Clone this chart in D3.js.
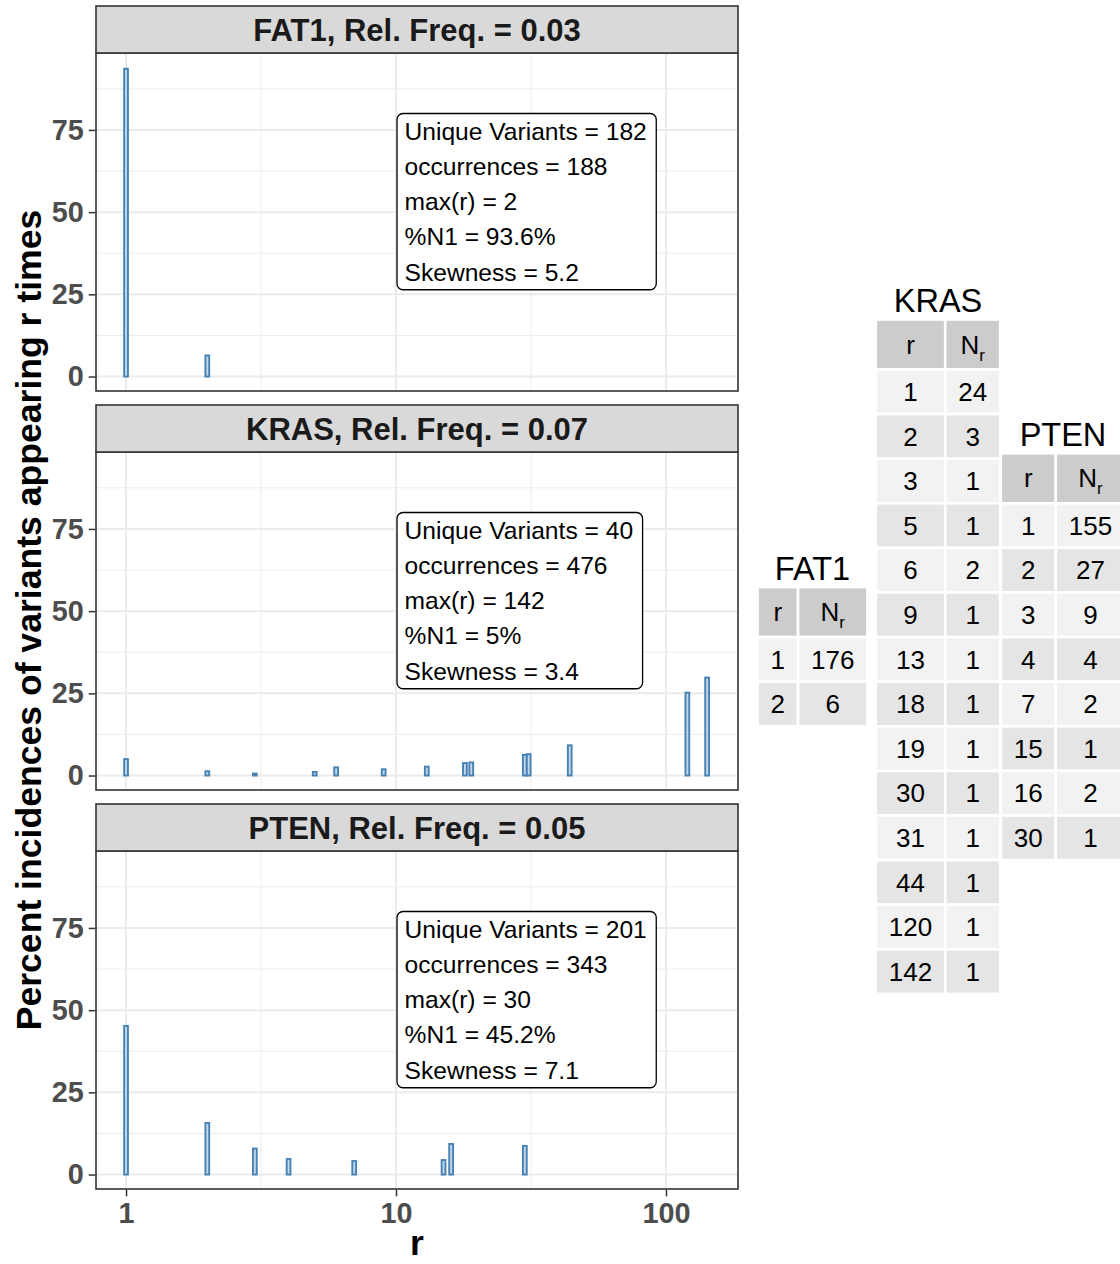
<!DOCTYPE html>
<html>
<head>
<meta charset="utf-8">
<script src="https://cdn.jsdelivr.net/npm/d3@7"></script>
<style>
  html, body { margin: 0; padding: 0; background: #ffffff; }
  svg { display: block; }
</style>
</head>
<body>
<svg id="chart" width="1120" height="1264"></svg>
<script>
// ---- data -------------------------------------------------------------
const genes = ["FAT1", "KRAS", "PTEN"];
const relFreq = ["0.03", "0.07", "0.05"];
const uniqueVariants = [182, 40, 201];
const occurrences = [188, 476, 343];
const maxR = [2, 142, 30];
const pctN1 = ["93.6%", "5%", "45.2%"];
const skewness = ["5.2", "3.4", "7.1"];

// r values and number of variants seen r times (N_r)
const fat1R = [1, 2];
const fat1N = [176, 6];
const krasR = [1, 2, 3, 5, 6, 9, 13, 18, 19, 30, 31, 44, 120, 142];
const krasN = [24, 3, 1, 1, 2, 1, 1, 1, 1, 1, 1, 1, 1, 1];
const ptenR = [1, 2, 3, 4, 7, 15, 16, 30];
const ptenN = [155, 27, 9, 4, 2, 1, 2, 1];

// percent of incidences for each r
const fat1Pct = [93.6, 6.4];
const krasPct = [5.0, 1.3, 0.6, 1.1, 2.5, 1.9, 2.7, 3.8, 4.0, 6.3, 6.5, 9.2, 25.2, 29.8];
const ptenPct = [45.2, 15.7, 7.9, 4.7, 4.1, 4.4, 9.3, 8.7];

const yTicks = [0, 25, 50, 75];
const yMinor = [12.5, 37.5, 62.5, 87.5];
const xTicks = [1, 10, 100];
const xMinor = [Math.pow(10, 0.5), Math.pow(10, 1.5)];

// ---- layout -----------------------------------------------------------
const FONT = "'Liberation Sans', Arial, Helvetica, sans-serif";
const svg = d3.select("#chart");

const panelLeft = 96, panelRight = 738;
const panelTops = [53, 452, 851];
const panelH = 338;
const stripH = 47;

const x = d3.scaleLog().domain([0.774, 184.8]).range([panelLeft, panelRight]);

const panels = [
  { r: fat1R, pct: fat1Pct },
  { r: krasR, pct: krasPct },
  { r: ptenR, pct: ptenPct }
];

panels.forEach((p, i) => {
  const top = panelTops[i];
  const y = d3.scaleLinear().domain([-4.4, 98.4]).range([top + panelH, top]);
  const g = svg.append("g");

  // panel background
  g.append("rect").attr("x", panelLeft).attr("y", top)
    .attr("width", panelRight - panelLeft).attr("height", panelH)
    .attr("fill", "#ffffff");

  // grid
  g.selectAll(".ymin").data(yMinor).join("line")
    .attr("x1", panelLeft).attr("x2", panelRight)
    .attr("y1", d => y(d)).attr("y2", d => y(d))
    .attr("stroke", "#ebebeb").attr("stroke-width", 1);
  g.selectAll(".xmin").data(xMinor).join("line")
    .attr("y1", top).attr("y2", top + panelH)
    .attr("x1", d => x(d)).attr("x2", d => x(d))
    .attr("stroke", "#ebebeb").attr("stroke-width", 1);
  g.selectAll(".ymaj").data(yTicks).join("line")
    .attr("x1", panelLeft).attr("x2", panelRight)
    .attr("y1", d => y(d)).attr("y2", d => y(d))
    .attr("stroke", "#ebebeb").attr("stroke-width", 2);
  g.selectAll(".xmaj").data(xTicks).join("line")
    .attr("y1", top).attr("y2", top + panelH)
    .attr("x1", d => x(d)).attr("x2", d => x(d))
    .attr("stroke", "#ebebeb").attr("stroke-width", 2);

  // bars
  const bars = p.r.map((r, k) => ({ r: r, v: p.pct[k] }));
  const bw = 3.8;
  g.selectAll(".bar").data(bars).join("rect")
    .attr("x", d => x(d.r) - bw / 2)
    .attr("y", d => y(d.v))
    .attr("width", bw)
    .attr("height", d => y(0) - y(d.v))
    .attr("fill", "#c4d8ea")
    .attr("stroke", "#4682b4")
    .attr("stroke-width", 1.9);

  // stats box
  const lines = [
    "Unique Variants = " + uniqueVariants[i],
    "occurrences = " + occurrences[i],
    "max(r) = " + maxR[i],
    "%N1 = " + pctN1[i],
    "Skewness = " + skewness[i]
  ];
  const bx = x(10) + 1, by = y(80);
  const lh = 35.25;
  const box = g.append("rect");
  const texts = g.selectAll(".stat").data(lines).join("text")
    .attr("x", bx + 7.5)
    .attr("y", (d, k) => by + 17.5 + k * lh)
    .attr("dy", "0.35em")
    .attr("font-family", FONT).attr("font-size", 24.6)
    .attr("fill", "#000000")
    .text(d => d);
  let wmax = 0;
  texts.each(function () { wmax = Math.max(wmax, this.getComputedTextLength()); });
  box.attr("x", bx).attr("y", by)
    .attr("width", wmax + 17).attr("height", lh * 5)
    .attr("rx", 6).attr("ry", 6)
    .attr("fill", "#ffffff").attr("stroke", "#000000").attr("stroke-width", 1.3);

  // panel border
  g.append("rect").attr("x", panelLeft).attr("y", top)
    .attr("width", panelRight - panelLeft).attr("height", panelH)
    .attr("fill", "none").attr("stroke", "#333333").attr("stroke-width", 1.6);

  // strip
  g.append("rect").attr("x", panelLeft).attr("y", top - stripH)
    .attr("width", panelRight - panelLeft).attr("height", stripH)
    .attr("fill", "#d9d9d9").attr("stroke", "#333333").attr("stroke-width", 1.6);
  g.append("text")
    .attr("x", (panelLeft + panelRight) / 2)
    .attr("y", top - stripH / 2 + 1)
    .attr("dy", "0.35em")
    .attr("text-anchor", "middle")
    .attr("font-family", FONT).attr("font-size", 31).attr("font-weight", "bold")
    .attr("fill", "#1a1a1a")
    .text(genes[i] + ", Rel. Freq. = " + relFreq[i]);

  // y axis
  const yAxis = d3.axisLeft(y).tickValues(yTicks).tickSize(6.5).tickPadding(5).tickFormat(d3.format("d"));
  const ya = g.append("g").attr("transform", `translate(${panelLeft - 0.8},0)`).call(yAxis);
  ya.select(".domain").remove();
  ya.selectAll(".tick line").attr("stroke", "#333333").attr("stroke-width", 1.5);
  ya.selectAll(".tick text")
    .attr("font-family", FONT).attr("font-size", 28.8).attr("font-weight", "bold")
    .attr("fill", "#4d4d4d");

  // x axis on the bottom panel only
  if (i === panels.length - 1) {
    const xAxis = d3.axisBottom(x).tickValues(xTicks).tickSize(6.5).tickPadding(6).tickFormat(d3.format("d"));
    const xa = g.append("g").attr("transform", `translate(0,${top + panelH + 0.8})`).call(xAxis);
    xa.select(".domain").remove();
    xa.selectAll(".tick line").attr("stroke", "#333333").attr("stroke-width", 1.5);
    xa.selectAll(".tick text")
      .attr("font-family", FONT).attr("font-size", 28.8).attr("font-weight", "bold")
      .attr("fill", "#4d4d4d");
  }
});

// axis titles
svg.append("text")
  .attr("x", (panelLeft + panelRight) / 2).attr("y", 1255)
  .attr("text-anchor", "middle")
  .attr("font-family", FONT).attr("font-size", 35.6).attr("font-weight", "bold")
  .attr("fill", "#000000")
  .text("r");
svg.append("text")
  .attr("transform", "translate(41,620) rotate(-90)")
  .attr("text-anchor", "middle")
  .attr("font-family", FONT).attr("font-size", 35.6).attr("font-weight", "bold")
  .attr("fill", "#000000")
  .text("Percent incidences of variants appearing r times");

// ---- frequency tables ---------------------------------------------------
const tableCenterY = 656.7;
const headerPitch = 50, rowPitch = 44.6, cellFont = 26, cellPad = 26;

function drawTable(title, rVals, nVals, cx) {
  const g = svg.append("g");
  const measure = (s) => {
    const t = g.append("text").attr("font-family", FONT).attr("font-size", cellFont).text(s);
    const w = t.node().getComputedTextLength();
    t.remove();
    return w;
  };
  const w1 = d3.max(["r"].concat(rVals.map(String)), measure) + cellPad;
  const nWidths = nVals.map(v => measure(String(v)));
  const w2 = d3.max([measure("N") + 8].concat(nWidths)) + cellPad;
  const totalW = w1 + w2;
  const left = cx - totalW / 2;
  const bodyH = headerPitch + rVals.length * rowPitch;
  const top = tableCenterY - bodyH / 2;
  const colX = [left, left + w1];
  const colW = [w1, w2];

  g.append("text")
    .attr("x", cx).attr("y", top - 7.5)
    .attr("text-anchor", "middle")
    .attr("font-family", FONT).attr("font-size", 32.5)
    .attr("fill", "#000000")
    .text(title);

  // header
  [0, 1].forEach(c => {
    g.append("rect").attr("x", colX[c]).attr("y", top)
      .attr("width", colW[c]).attr("height", headerPitch)
      .attr("fill", "#cccccc").attr("stroke", "#ffffff").attr("stroke-width", 2.6);
  });
  g.append("text")
    .attr("x", colX[0] + w1 / 2).attr("y", top + headerPitch / 2).attr("dy", "0.35em")
    .attr("text-anchor", "middle")
    .attr("font-family", FONT).attr("font-size", cellFont).attr("fill", "#000000")
    .text("r");
  const nh = g.append("text")
    .attr("x", colX[1] + w2 / 2).attr("y", top + headerPitch / 2).attr("dy", "0.35em")
    .attr("text-anchor", "middle")
    .attr("font-family", FONT).attr("font-size", cellFont).attr("fill", "#000000");
  nh.append("tspan").text("N");
  nh.append("tspan").attr("font-size", 17).attr("dy", 7).text("r");

  // body rows
  rVals.forEach((r, k) => {
    const ry = top + headerPitch + k * rowPitch;
    const fill = k % 2 === 0 ? "#f2f2f2" : "#e5e5e5";
    [r, nVals[k]].forEach((v, c) => {
      g.append("rect").attr("x", colX[c]).attr("y", ry)
        .attr("width", colW[c]).attr("height", rowPitch)
        .attr("fill", fill).attr("stroke", "#ffffff").attr("stroke-width", 2.6);
      g.append("text")
        .attr("x", colX[c] + colW[c] / 2).attr("y", ry + rowPitch / 2).attr("dy", "0.35em")
        .attr("text-anchor", "middle")
        .attr("font-family", FONT).attr("font-size", cellFont).attr("fill", "#000000")
        .text(v);
    });
  });
}

drawTable("FAT1", fat1R, fat1N, 812.5);
drawTable("KRAS", krasR, krasN, 938);
drawTable("PTEN", ptenR, ptenN, 1063);
</script>
</body>
</html>
